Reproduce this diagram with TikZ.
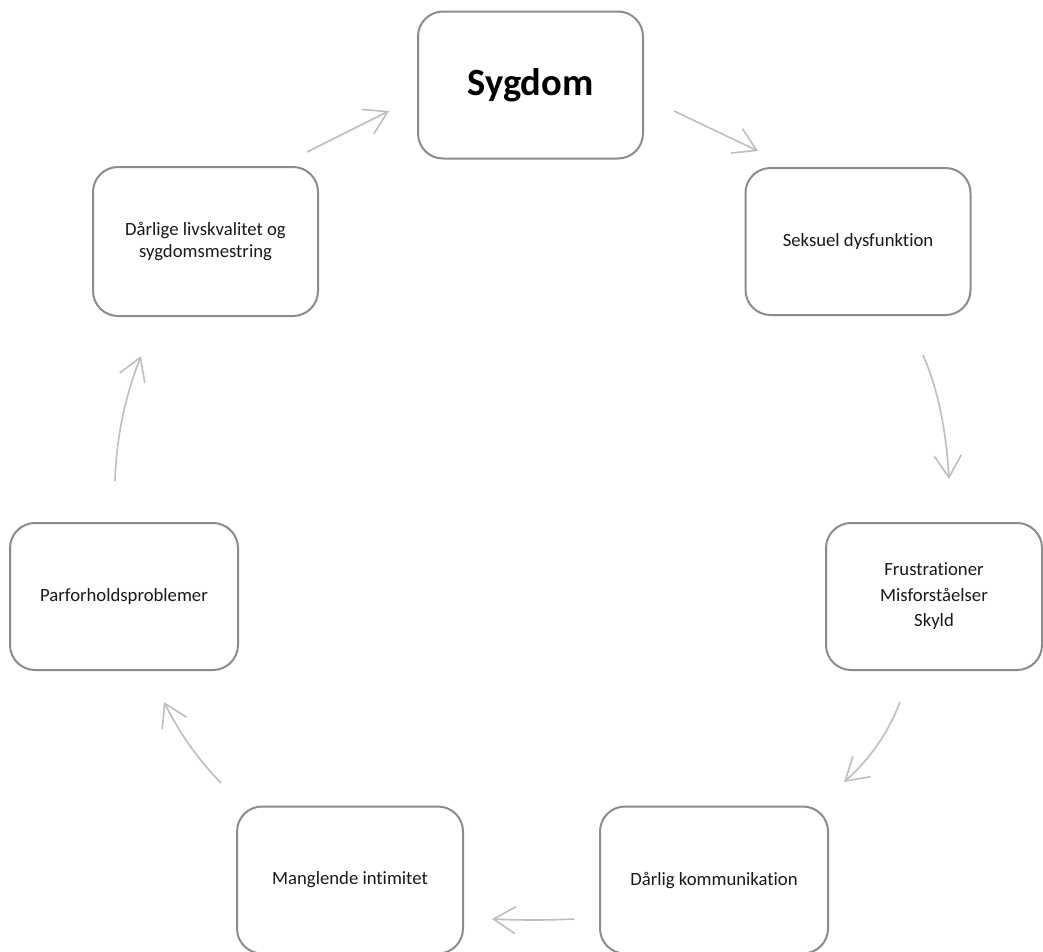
\documentclass[tikz,border=0pt]{standalone}
\usepackage{fontspec}
\setmainfont{Carlito}[Ligatures=NoCommon]
\usetikzlibrary{arrows.meta,bending,calc}
\definecolor{boxgray}{RGB}{140,140,140}
\definecolor{arrowgray}{RGB}{190,190,190}
\tikzset{
  stagebox/.style={draw=boxgray, line width=2pt, rounded corners=25pt,
    minimum width=225pt, minimum height=147pt, align=center, inner sep=0pt,
    font=\fontsize{18.7}{22}\selectfont, text=black!90},
  flow/.style={draw=arrowgray, line width=1.6pt,
    -{Straight Barb[length=22pt, width=27pt, line width=1.6pt, flex]}}
}
\newcommand{\quadarrow}[3]{\draw[flow] (#1) .. controls ($(#1)!2/3!(#2)$) and ($(#3)!2/3!(#2)$) .. (#3);}
\begin{document}
\begin{tikzpicture}[x=1pt, y=-1pt]
\useasboundingbox (0,0) rectangle (1043,951);
\clip (0,0) rectangle (1043,951);
\fill[white] (0,0) rectangle (1043,951);

\node[stagebox, font=\fontsize{38.5}{40}\selectfont\bfseries, text=black] (syg) at (530.5,85) {Sygdom};
\node[stagebox, minimum height=149pt] (dar) at (205.5,241.5) {Dårlige livskvalitet og\\sygdomsmestring};
\node[stagebox] (sek) at (858,241.5) {Seksuel dysfunktion};
\node[stagebox, minimum width=216pt, font=\fontsize{18.7}{25.5}\selectfont] (fru) at (934,596.5) {Frustrationer\\Misforståelser\\Skyld};
\node[stagebox, minimum width=228pt] (par) at (124,596.5) {Parforholdsproblemer};
\node[stagebox, minimum width=226pt] (man) at (350,880) {Manglende intimitet};
\node[stagebox, minimum width=228pt] (kom) at (714,880) {Dårlig kommunikation};

% connector end points
\coordinate (a1s) at (307,152);  \coordinate (a1e) at (389,111);
\coordinate (a2s) at (674,111);  \coordinate (a2e) at (758,151);
\coordinate (a3s) at (923,355);  \coordinate (a3c) at (945,405);  \coordinate (a3e) at (949,479);
\coordinate (a4s) at (900,702);  \coordinate (a4c) at (882,749);  \coordinate (a4e) at (844,782);
\coordinate (a5s) at (574,919);  \coordinate (a5c) at (533,921);  \coordinate (a5e) at (492,919);
\coordinate (a6s) at (221,783);  \coordinate (a6c) at (186,747);  \coordinate (a6e) at (164,702);
\coordinate (a7s) at (115,481);  \coordinate (a7c) at (117,416);  \coordinate (a7e) at (141,356);

% dar -> syg
\draw[flow] (a1s) -- (a1e);
% syg -> sek
\draw[flow] (a2s) -- (a2e);
% sek -> fru
\quadarrow{a3s}{a3c}{a3e}
% fru -> kom
\quadarrow{a4s}{a4c}{a4e}
% kom -> man
\quadarrow{a5s}{a5c}{a5e}
% man -> par
\quadarrow{a6s}{a6c}{a6e}
% par -> dar
\quadarrow{a7s}{a7c}{a7e}
\end{tikzpicture}
\end{document}
